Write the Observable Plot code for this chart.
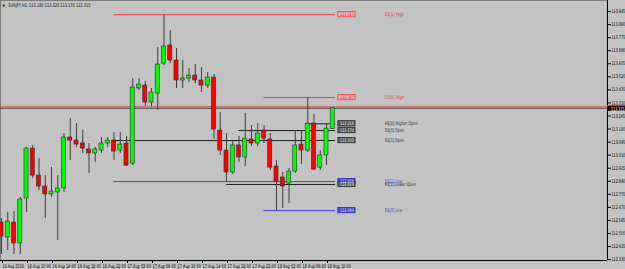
<!DOCTYPE html>
<html><head><meta charset="utf-8">
<script src="https://cdn.jsdelivr.net/npm/d3@7"></script>
<script src="https://cdn.jsdelivr.net/npm/@observablehq/plot@0.6"></script>
<style>
html,body{margin:0;padding:0;background:#c3c3c3;}
#chart{width:625px;height:269px;overflow:hidden;}
</style></head><body><div id="chart"></div>
<script>
const titleText = "EURJPY,H1  113.180 113.320 113.178 113.315";

// hourly bars, bar 0 = 16 Aug 2016 06:00
const opens = [112.571,112.474,112.571,112.435,112.728,113.053,112.877,112.806,112.754,112.767,
  112.793,113.125,113.105,113.086,113.047,113.021,113.040,113.086,113.105,113.040,
  113.086,112.955,113.444,113.463,113.353,113.411,113.606,113.724,113.626,113.496,
  113.509,113.528,113.496,113.463,113.515,113.170,113.040,112.897,113.073,112.995,
  113.112,113.086,113.170,113.112,112.936,112.864,112.825,112.903,113.079,113.040,
  113.216,112.929,113.008,113.180];
const highs = [112.597,112.636,112.643,112.734,113.060,113.073,112.988,112.877,112.929,112.877,
  113.151,113.248,113.216,113.170,113.086,113.060,113.125,113.125,113.157,113.157,
  113.131,113.509,113.509,113.489,113.444,113.711,113.925,113.821,113.704,113.626,
  113.574,113.600,113.580,113.548,113.535,113.287,113.151,113.105,113.131,113.281,
  113.203,113.216,113.203,113.151,112.975,112.897,112.923,113.170,113.170,113.385,
  113.274,113.040,113.209,113.320];
const lows = [112.363,112.389,112.363,112.363,112.636,112.858,112.780,112.597,112.734,112.454,
  112.767,112.975,113.060,113.021,112.890,112.962,113.021,113.060,112.975,113.021,
  112.936,112.942,113.431,113.327,113.327,113.301,113.593,113.606,113.444,113.444,
  113.483,113.476,113.418,113.444,113.112,113.008,112.838,112.884,112.962,112.936,
  113.066,113.066,113.086,112.910,112.649,112.663,112.695,112.890,112.949,113.027,
  112.910,112.910,112.942,113.178];
const closes = [112.480,112.578,112.435,112.721,113.053,112.877,112.806,112.754,112.773,112.793,
  113.125,113.105,113.079,113.053,113.021,113.047,113.086,113.105,113.034,113.079,
  112.942,113.450,113.470,113.353,113.418,113.600,113.717,113.626,113.496,113.509,
  113.528,113.496,113.463,113.515,113.177,113.040,112.897,113.073,112.995,113.118,
  113.086,113.151,113.118,112.929,112.838,112.806,112.903,113.073,113.040,113.216,
  112.916,113.008,113.183,113.315];

const bidPrice = 113.315;
const askPrice = 113.325;

const levelNames  = ["D1[1] High","D1[0] High","H1[0] Higher Open","D1[0] Open","D1[1] Open","D1[1] Low","H1[1] Lower Open","D1[0] Low"];
const levelPrices = [113.925,113.385,113.214,113.170,113.105,112.838,112.819,112.649];
const levelStartBar = [18,42,49,38,18,18,36,42];
const levelKinds  = ["high","high","open","open","open","low","open","low"];

const xTickBars = [0,4,8,12,16,20,24,28,32,36,40,44,48,52];
const xTickLabels = ["16 Aug 2016","16 Aug 10:00","16 Aug 14:00","16 Aug 18:00","16 Aug 22:00",
  "17 Aug 02:00","17 Aug 06:00","17 Aug 10:00","17 Aug 14:00","17 Aug 18:00","17 Aug 22:00",
  "18 Aug 02:00","18 Aug 06:00","18 Aug 10:00"];
const yTicks = [113.945,113.860,113.775,113.690,113.605,113.520,113.435,113.350,113.265,113.180,
  113.095,113.010,112.925,112.840,112.755,112.670,112.585,112.500,112.415,112.330];

const candles = opens.map((o,i)=>({bar:i, open:o, high:highs[i], low:lows[i], close:closes[i]}));
const levels = levelNames.map((n,i)=>({name:n, price:levelPrices[i], start:levelStartBar[i], kind:levelKinds[i]}));

const xMin = -0.16, xMax = 96.96;
const lineEnd = 53.45, boxL = 53.9, boxR = 56.65, textX = 61.3;
const lineColor = {high:"#ec3b3b", open:"#1a1a1a", low:"#4444dd"};
const labelColor = {high:"#e04040", open:"#1e1e1e", low:"#3c3cd0"};
const boxFill = {high:"#efb2b2", open:"#5a5a5a", low:"#4545cf"};
const boxStroke = {high:"#e83030", open:"#202020", low:"#2a2aa8"};
const boxText = {high:"#e03030", open:"#e8e8e8", low:"#e8e8ff"};
const FONT = "'Liberation Sans Narrow','DejaVu Sans Condensed','Liberation Sans',sans-serif";
const fmt = d3.format(".3f");

const chart = Plot.plot({
  width:625, height:269,
  marginLeft:0, marginRight:18, marginTop:0, marginBottom:9,
  x:{type:"linear", domain:[xMin,xMax], axis:null},
  y:{type:"linear", domain:[112.324,114.017], axis:null},
  style:{fontFamily:FONT, fontSize:"5px", background:"#c3c3c3", color:"#000"},
  marks:[
    Plot.frame({stroke:"#7c7c7c"}),
    // level lines
    Plot.ruleY(levels, {y:"price", x1:"start", x2:lineEnd, stroke:d=>lineColor[d.kind], strokeWidth:1}),
    // current price lines
    Plot.ruleY([askPrice], {stroke:"#e04848", strokeWidth:1}),
    Plot.ruleY([bidPrice], {stroke:"#35504f", strokeWidth:1}),
    // candles
    Plot.ruleX(candles, {x:"bar", y1:"low", y2:"high", stroke:"#3c3c3c", strokeWidth:1}),
    Plot.rect(candles, {x1:d=>d.bar-0.5, x2:d=>d.bar+0.5, y1:"open", y2:d=>Math.abs(d.close-d.open)<0.004 ? d.open+0.004*(d.close>=d.open?1:-1) : d.close,
      insetLeft:1.1, insetRight:1.1,
      fill:d=>d.close>=d.open?"#00ff00":"#ff0000", stroke:"#2a2a2a", strokeWidth:0.6}),
    // level price boxes
    Plot.rect(levels, {x1:boxL, x2:boxR, y1:"price", y2:"price", insetTop:-2.7, insetBottom:-2.7,
      fill:d=>boxFill[d.kind], stroke:d=>boxStroke[d.kind], strokeWidth:0.7}),
    Plot.text(levels, {x:(boxL+boxR)/2, y:"price", text:d=>fmt(d.price), fill:d=>boxText[d.kind], fontSize:4.8}),
    Plot.text(levels, {x:textX, y:"price", text:"name", textAnchor:"start", fill:d=>labelColor[d.kind], fontSize:5}),
    // axes lines
    Plot.ruleX([xMax], {stroke:"#000", strokeWidth:1}),
    Plot.ruleY([112.324], {stroke:"#000", strokeWidth:1}),
    Plot.axisY(yTicks, {anchor:"right", tickSize:3, tickPadding:1, tickFormat:fmt, fontSize:5, stroke:"#000"}),
    Plot.axisX(xTickBars, {anchor:"bottom", tickSize:3, tickPadding:0.5, fontSize:5,
      tickFormat:d=>xTickLabels[xTickBars.indexOf(d)], textAnchor:"start", dx:1, stroke:"#000"}),
    // current price boxes on axis
    Plot.rect([askPrice], {x1:xMax, x2:xMax, y1:d=>d, y2:d=>d, insetRight:-18, insetTop:-1.3, insetBottom:-1.3, fill:"#e03030"}),
    Plot.rect([bidPrice], {x1:xMax, x2:xMax, y1:d=>d, y2:d=>d, insetRight:-18, insetTop:-1.5, insetBottom:-3, fill:"#000"}),
    Plot.text([bidPrice], {x:xMax, y:d=>d, text:d=>fmt(d), textAnchor:"start", dx:3.5, dy:0.8, fill:"#fff", fontSize:5}),
    // title
    Plot.text([titleText], {frameAnchor:"top-left", dx:8, dy:3, textAnchor:"start", lineAnchor:"top", fill:"#111", fontSize:5}),
    Plot.text(["\u25BC"], {frameAnchor:"top-left", dx:2, dy:3.5, textAnchor:"start", lineAnchor:"top", fill:"#111", fontSize:3.5})
  ]
});
// compress text horizontally like the narrow terminal font
chart.querySelectorAll("text").forEach(t => {
  const n = t.textContent.length;
  if (n > 1) {
    t.setAttribute("textLength", (n * 1.95).toFixed(1));
    t.setAttribute("lengthAdjust", "spacingAndGlyphs");
  }
});
document.getElementById("chart").appendChild(chart);
</script></body></html>
